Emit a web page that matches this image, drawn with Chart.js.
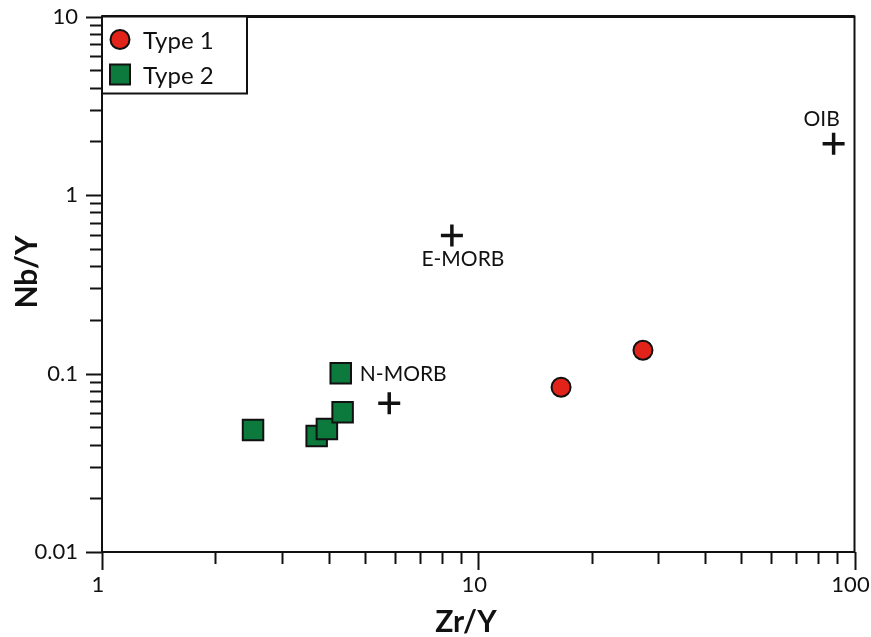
<!DOCTYPE html>
<html>
<head>
<meta charset="utf-8">
<script src="https://cdn.jsdelivr.net/npm/chart.js@4.4.1/dist/chart.umd.min.js"></script>
<style>
  html, body { margin: 0; padding: 0; background: #fff; }
  #wrap { width: 871px; height: 637px; position: relative; }
</style>
</head>
<body>
<div id="wrap"><canvas id="c" width="871" height="637"></canvas></div>
<script>
// Sample ratios (Zr/Y, Nb/Y)
const type1Zr = [16.6, 27.4];
const type1Nb = [0.0838, 0.135];
const type2Zr = [2.52, 3.72, 3.96, 4.31, 4.36];
const type2Nb = [0.0482, 0.0446, 0.0488, 0.1003, 0.0607];

// Reference compositions
const refNames = ['N-MORB', 'E-MORB', 'OIB'];
const refZr = [5.80, 8.51, 88.0];
const refNb = [0.0682, 0.594, 1.94];

// Axis tick labels (powers of ten only)
const xTickLabels = ['1', '10', '100'];
const yTickLabels = ['0.01', '0.1', '1', '10'];

const seriesNames = ['Type 1', 'Type 2'];

const FONT = 'Lato, "Open Sans", sans-serif';
const RED = '#e2231a';
const GREEN = '#0b7a3c';

const toPts = (xs, ys) => xs.map((x, i) => ({ x: x, y: ys[i] }));

// label placement relative to each reference cross: [dx, dy, align]
const refLabelPos = [[14, -29, 'center'], [11, 24, 'center'], [-12, -24, 'center']];

function powerLabel(v, labels, minExp) {
  const e = Math.log10(v);
  const r = Math.round(e);
  if (Math.abs(e - r) < 1e-6) return labels[r - minExp] || '';
  return '';
}

const framePlugin = {
  id: 'frame',
  afterDraw(chart) {
    const ctx = chart.ctx;
    const a = chart.chartArea;
    const xs = chart.scales.x, ys = chart.scales.y;
    ctx.save();
    ctx.strokeStyle = '#111';
    ctx.lineCap = 'butt';

    // outward tick marks
    ctx.lineWidth = 2;
    for (let d = 0; d <= 2; d++) {
      for (let k = 1; k <= 9; k++) {
        const v = k * Math.pow(10, d);
        if (v > 100) break;
        const px = Math.round(xs.getPixelForValue(v)) + 0.5;
        const len = k === 1 ? 18 : 12;
        ctx.beginPath();
        ctx.moveTo(px, a.bottom);
        ctx.lineTo(px, a.bottom + len);
        ctx.stroke();
      }
    }
    for (let d = -2; d <= 1; d++) {
      for (let k = 1; k <= 9; k++) {
        const v = k * Math.pow(10, d);
        if (v > 10.0001) break;
        const py = Math.round(ys.getPixelForValue(v)) + 0.5;
        const len = k === 1 ? 16 : 12;
        ctx.beginPath();
        ctx.moveTo(a.left, py);
        ctx.lineTo(a.left - len, py);
        ctx.stroke();
      }
    }

    // plot frame
    ctx.lineWidth = 2;
    ctx.strokeRect(a.left, a.top, a.right - a.left, a.bottom - a.top);
    ctx.lineWidth = 3;
    ctx.beginPath();
    ctx.moveTo(a.left, a.top);
    ctx.lineTo(a.right, a.top);
    ctx.stroke();

    // reference labels
    ctx.fillStyle = '#111';
    ctx.font = '21px ' + FONT;
    ctx.textBaseline = 'middle';
    refNames.forEach((name, i) => {
      const px = xs.getPixelForValue(refZr[i]);
      const py = ys.getPixelForValue(refNb[i]);
      const p = refLabelPos[i];
      ctx.textAlign = p[2];
      ctx.fillText(name, px + p[0], py + p[1]);
    });

    // legend box
    const lx = a.left, ly = a.top, lw = 145, lh = 77;
    ctx.fillStyle = '#fff';
    ctx.fillRect(lx, ly, lw, lh);
    ctx.lineWidth = 2;
    ctx.strokeStyle = '#111';
    ctx.strokeRect(lx, ly, lw, lh);

    ctx.beginPath();
    ctx.arc(lx + 18, ly + 23, 9.5, 0, Math.PI * 2);
    ctx.fillStyle = RED;
    ctx.fill();
    ctx.lineWidth = 2;
    ctx.stroke();

    ctx.fillStyle = GREEN;
    ctx.fillRect(lx + 8, ly + 48, 20, 20);
    ctx.strokeRect(lx + 8, ly + 48, 20, 20);

    ctx.fillStyle = '#111';
    ctx.font = '24px ' + FONT;
    ctx.textAlign = 'left';
    ctx.fillText(seriesNames[0], lx + 41, ly + 25);
    ctx.fillText(seriesNames[1], lx + 41, ly + 60);

    // axis titles
    ctx.font = 'bold 30px ' + FONT;
    ctx.textAlign = 'center';
    ctx.fillText('Zr/Y', 466, 622);
    ctx.save();
    ctx.translate(27, 272);
    ctx.rotate(-Math.PI / 2);
    ctx.fillText('Nb/Y', 0, 0);
    ctx.restore();

    ctx.restore();
  }
};

new Chart(document.getElementById('c'), {
  type: 'scatter',
  data: {
    datasets: [
      {
        label: seriesNames[0],
        data: toPts(type1Zr, type1Nb),
        pointStyle: 'circle',
        pointRadius: 9.5,
        pointHoverRadius: 9.5,
        backgroundColor: RED,
        borderColor: '#111',
        borderWidth: 2
      },
      {
        label: seriesNames[1],
        data: toPts(type2Zr, type2Nb),
        pointStyle: 'rect',
        pointRadius: 14.5,
        pointHoverRadius: 14.5,
        backgroundColor: GREEN,
        borderColor: '#111',
        borderWidth: 2
      },
      {
        label: 'Reference',
        data: toPts(refZr, refNb),
        pointStyle: 'cross',
        pointRadius: 11,
        pointHoverRadius: 11,
        borderColor: '#111',
        backgroundColor: '#111',
        borderWidth: 3.5
      }
    ]
  },
  options: {
    responsive: false,
    animation: false,
    events: [],
    layout: { padding: { top: 16, right: 12, left: 0, bottom: 0 } },
    plugins: {
      legend: { display: false },
      tooltip: { enabled: false }
    },
    scales: {
      x: {
        type: 'logarithmic',
        min: 1,
        max: 100,
        border: { display: false },
        grid: { display: true, drawOnChartArea: false, drawTicks: true, tickLength: 16, color: 'rgba(0,0,0,0)' },
        ticks: {
          autoSkip: false,
          maxRotation: 0,
          padding: 4,
          labelOffset: -4,
          color: '#111',
          font: { family: FONT, size: 22 },
          callback: (v) => powerLabel(v, xTickLabels, 0)
        },
        afterFit(scale) {
          scale.height = 85;
          scale.paddingLeft = 0;
          scale.paddingRight = 0;
        }
      },
      y: {
        type: 'logarithmic',
        min: 0.01,
        max: 10,
        border: { display: false },
        grid: { display: true, drawOnChartArea: false, drawTicks: true, tickLength: 16, color: 'rgba(0,0,0,0)' },
        ticks: {
          autoSkip: false,
          padding: 8,
          color: '#111',
          font: { family: FONT, size: 22 },
          callback: (v) => powerLabel(v, yTickLabels, -2)
        },
        afterFit(scale) {
          scale.width = 102;
          scale.paddingTop = 0;
          scale.paddingBottom = 0;
        }
      }
    }
  },
  plugins: [framePlugin]
});
</script>
</body>
</html>
